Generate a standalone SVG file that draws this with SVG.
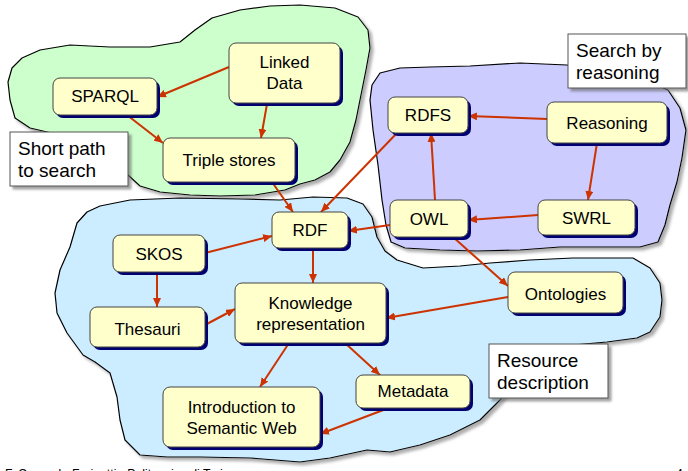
<svg xmlns="http://www.w3.org/2000/svg" width="688" height="471" viewBox="0 0 688 471">
<style>
.blob{stroke:#000;stroke-width:1.2;stroke-linejoin:round;filter:url(#bsh)}
.nb{fill:#FFFFCC;stroke:#444;stroke-width:1}
.ns{fill:#000070}
.t{font-family:"Liberation Sans",Arial,sans-serif;font-size:17px;fill:#000;text-anchor:middle}
.lt{font-family:"Liberation Sans",Arial,sans-serif;font-size:19px;fill:#000}
.lb{fill:#fff;stroke:#555;stroke-width:1;filter:url(#lsh)}
.e{stroke:#CC3300;stroke-width:2;fill:none;marker-end:url(#ah)}
.ft{font-family:"Liberation Sans",Arial,sans-serif;font-size:12.3px;fill:#000}
</style>
<defs>
<filter id="bsh" x="-10%" y="-10%" width="120%" height="125%"><feDropShadow dx="3" dy="3" stdDeviation="1.5" flood-color="#777" flood-opacity="0.6"/></filter>
<filter id="lsh" x="-10%" y="-10%" width="125%" height="130%"><feDropShadow dx="3" dy="3" stdDeviation="1.2" flood-color="#666" flood-opacity="0.6"/></filter>
<marker id="ah" markerUnits="userSpaceOnUse" markerWidth="10" markerHeight="8" refX="9" refY="4" orient="auto"><path d="M0,0 L9,4 L0,8 z" fill="#CC3300"/></marker>
</defs>
<rect width="688" height="471" fill="#fff"/>
<g id="blobs">
<path class="blob" fill="#CCFFCC" d="M8,82 L12,68 L22,58 L40,50 L70,45 L110,47 L150,47 L180,42 L195,30 L212,18 L240,10 L270,6 L300,5 L335,8 L358,17 L368,30 L370,48 L366,70 L361,95 L356,120 L350,142 L340,160 L330,172 L315,180 L300,184 L285,190 L255,195 L220,196 L190,195 L160,192 L140,186 L128,175 L120,160 L100,150 L60,135 L30,128 L15,118 L10,100 Z"/>
<path class="blob" fill="#CCCCFF" d="M380,73 L400,68 L430,67 L470,66 L520,63 L567,65 L600,70 L640,78 L668,90 L680,108 L686,130 L682,158 L677,182 L670,205 L665,225 L658,242 L640,247 L600,247 L560,247 L520,250 L477,251 L440,250 L405,248 L391,242 L386,225 L382,200 L378,165 L373,130 L370,100 L372,85 Z"/>
<path class="blob" fill="#CCECFF" d="M87,212 L100,206 L130,200 L180,198 L240,199 L280,200 L313,197 L347,198 L363,204 L372,217 L377,237 L385,251 L397,260 L423,268 L460,266 L490,263 L530,260 L573,258 L633,258 L650,268 L660,283 L662,300 L660,317 L650,332 L637,338 L607,342 L573,345 L540,355 L515,380 L500,400 L480,420 L450,435 L420,445 L390,452 L367,450 L330,458 L300,462 L250,458 L200,457 L167,457 L140,455 L125,440 L120,420 L117,397 L110,373 L95,362 L83,355 L67,333 L57,313 L55,293 L60,270 L70,247 L77,223 Z"/>
</g>
<g id="connectors">
<path class="e" d="M229,67 L157,97"/>
<path class="e" d="M127,115 L163,143"/>
<path class="e" d="M267,104 L261,138"/>
<path class="e" d="M272,182 L293,212"/>
<path class="e" d="M397,133 L321,212"/>
<path class="e" d="M547,119 L468,116"/>
<path class="e" d="M597,143 L588,200"/>
<path class="e" d="M538,215 L468,220"/>
<path class="e" d="M435,200 L431,133"/>
<path class="e" d="M390,225 L348,231"/>
<path class="e" d="M453,237 L508,286"/>
<path class="e" d="M205,253 L272,236"/>
<path class="e" d="M157,272 L157,307"/>
<path class="e" d="M313,248 L313,283"/>
<path class="e" d="M205,325 L235,309"/>
<path class="e" d="M508,297 L386,318"/>
<path class="e" d="M289,343 L260,387"/>
<path class="e" d="M345,343 L380,375"/>
<path class="e" d="M386,409 L320,434"/>
</g>
<g id="linked-data"><rect class="ns" x="232" y="46" width="111" height="60" rx="7"/><rect class="nb" x="229" y="43" width="111" height="60" rx="7"/><text class="t" x="284.5" y="68">Linked</text><text class="t" x="284.5" y="89">Data</text></g>
<g id="sparql"><rect class="ns" x="56" y="81" width="104" height="37" rx="7"/><rect class="nb" x="53" y="78" width="104" height="37" rx="7"/><text class="t" x="105" y="102">SPARQL</text></g>
<g id="triple-stores"><rect class="ns" x="166" y="141" width="132" height="44" rx="7"/><rect class="nb" x="163" y="138" width="132" height="44" rx="7"/><text class="t" x="229" y="166">Triple stores</text></g>
<g id="rdfs"><rect class="ns" x="391" y="100" width="80" height="36" rx="7"/><rect class="nb" x="388" y="97" width="80" height="36" rx="7"/><text class="t" x="428" y="121">RDFS</text></g>
<g id="reasoning"><rect class="ns" x="550" y="105" width="120" height="41" rx="7"/><rect class="nb" x="547" y="102" width="120" height="41" rx="7"/><text class="t" x="607" y="129">Reasoning</text></g>
<g id="owl"><rect class="ns" x="393" y="203" width="78" height="37" rx="7"/><rect class="nb" x="390" y="200" width="78" height="37" rx="7"/><text class="t" x="429" y="225">OWL</text></g>
<g id="swrl"><rect class="ns" x="541" y="203" width="97" height="35" rx="7"/><rect class="nb" x="538" y="200" width="97" height="35" rx="7"/><text class="t" x="586.5" y="224">SWRL</text></g>
<g id="rdf"><rect class="ns" x="275" y="215" width="76" height="36" rx="7"/><rect class="nb" x="272" y="212" width="76" height="36" rx="7"/><text class="t" x="310" y="236">RDF</text></g>
<g id="skos"><rect class="ns" x="116" y="238" width="92" height="37" rx="7"/><rect class="nb" x="113" y="235" width="92" height="37" rx="7"/><text class="t" x="159" y="260">SKOS</text></g>
<g id="thesauri"><rect class="ns" x="93" y="310" width="115" height="40" rx="7"/><rect class="nb" x="90" y="307" width="115" height="40" rx="7"/><text class="t" x="147.5" y="335">Thesauri</text></g>
<g id="knowledge-representation"><rect class="ns" x="238" y="286" width="151" height="60" rx="7"/><rect class="nb" x="235" y="283" width="151" height="60" rx="7"/><text class="t" x="310.5" y="309">Knowledge</text><text class="t" x="310.5" y="330">representation</text></g>
<g id="ontologies"><rect class="ns" x="511" y="275" width="115" height="41" rx="7"/><rect class="nb" x="508" y="272" width="115" height="41" rx="7"/><text class="t" x="565.5" y="300">Ontologies</text></g>
<g id="metadata"><rect class="ns" x="359" y="378" width="114" height="33" rx="7"/><rect class="nb" x="356" y="375" width="114" height="33" rx="7"/><text class="t" x="413" y="397">Metadata</text></g>
<g id="intro-semantic-web"><rect class="ns" x="166" y="390" width="157" height="60" rx="7"/><rect class="nb" x="163" y="387" width="157" height="60" rx="7"/><text class="t" x="241.5" y="413">Introduction to</text><text class="t" x="241.5" y="434">Semantic Web</text></g>
<g id="label-short-path"><rect class="lb" x="10" y="132" width="118" height="54"/><text class="lt" x="18" y="155">Short path</text><text class="lt" x="18" y="177">to search</text></g>
<g id="label-search-reasoning"><rect class="lb" x="568" y="34" width="118" height="54"/><text class="lt" x="576" y="57">Search by</text><text class="lt" x="576" y="79">reasoning</text></g>
<g id="label-resource"><rect class="lb" x="489" y="344" width="119" height="54"/><text class="lt" x="497" y="367">Resource</text><text class="lt" x="497" y="389">description</text></g>
<text class="ft" x="5" y="478">F. Corno, L. Farinetti - Politecnico di Torino</text>
<text class="ft" x="676" y="478">4</text>
</svg>
